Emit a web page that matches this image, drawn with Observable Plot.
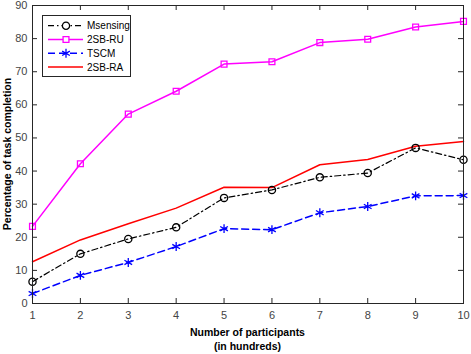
<!DOCTYPE html>
<html>
<head>
<meta charset="utf-8">
<script src="https://cdn.jsdelivr.net/npm/d3@7"></script>
<script src="https://cdn.jsdelivr.net/npm/@observablehq/plot@0.6"></script>
<style>
  html, body { margin: 0; padding: 0; background: #fff; }
  #wrap { position: relative; width: 471px; height: 354px; font-family: Arial, "Liberation Sans", Helvetica, sans-serif; }
  #legend { position: absolute; left: 42px; top: 15px; }
</style>
</head>
<body>
<div id="wrap"></div>
<script>
const participants = [1, 2, 3, 4, 5, 6, 7, 8, 9, 10];
const msensing = [6.6, 15.0, 19.5, 23.0, 31.9, 34.3, 38.1, 39.4, 47.0, 43.4];
const sb2RU   = [23.3, 42.2, 57.2, 64.1, 72.3, 73.0, 78.8, 79.8, 83.5, 85.2];
const tscm    = [3.0, 8.5, 12.4, 17.2, 22.6, 22.3, 27.4, 29.3, 32.5, 32.6];
const sb2RA   = [12.6, 19.2, 24.1, 28.8, 35.1, 35.0, 41.9, 43.5, 47.5, 48.9];
const seriesNames = ["Msensing", "2SB-RU", "TSCM", "2SB-RA"];
const xTicks = [1, 2, 3, 4, 5, 6, 7, 8, 9, 10];
const yTicks = [0, 10, 20, 30, 40, 50, 60, 70, 80, 90];

const W = 471, H = 354;
const mL = 32, mR = 8, mT = 5, mB = 51;
const innerH = H - mT - mB, innerW = W - mL - mR;
const axisColor = "#262626";

const rows = (ys) => participants.map((x, i) => ({x, y: ys[i]}));
const style = [
  {data: rows(msensing), stroke: "#000000", dash: "6,3,1.5,3", width: 1.2, symbol: "circle", r: 3.6, fill: "none"},
  {data: rows(sb2RU), stroke: "#ff00ff", dash: null, width: 1.5, symbol: "square", r: 3.3, fill: "none"},
  {data: rows(tscm), stroke: "#0000ff", dash: "7,4", width: 1.5, symbol: "asterisk", r: 4.2, fill: "none"},
  {data: rows(sb2RA), stroke: "#ff0000", dash: null, width: 1.5, symbol: null}
];

const marks = [];
// inward ticks (MATLAB box style)
marks.push(Plot.tickX(xTicks, {x: d => d, stroke: axisColor, insetTop: innerH - 5}));
marks.push(Plot.tickX(xTicks, {x: d => d, stroke: axisColor, insetBottom: innerH - 5}));
marks.push(Plot.tickY(yTicks, {y: d => d, stroke: axisColor, insetRight: innerW - 5}));
marks.push(Plot.tickY(yTicks, {y: d => d, stroke: axisColor, insetLeft: innerW - 5}));
for (const s of [style[3], style[1], style[0], style[2]]) {
  marks.push(Plot.line(s.data, {x: "x", y: "y", stroke: s.stroke, strokeWidth: s.width, strokeDasharray: s.dash}));
}
for (const s of style) {
  if (s.symbol) marks.push(Plot.dot(s.data, {x: "x", y: "y", symbol: s.symbol, r: s.r, stroke: s.stroke, fill: s.fill, strokeWidth: 1.3}));
}
marks.push(Plot.frame({stroke: axisColor, strokeWidth: 1}));
marks.push(Plot.axisX(xTicks, {tickSize: 0, tickPadding: 8, fontSize: 11, fill: "#444", label: null}));
marks.push(Plot.axisY(yTicks, {tickSize: 0, tickPadding: 5, fontSize: 11, fill: "#444", label: null}));

const chart = Plot.plot({
  width: W, height: H,
  marginLeft: mL, marginRight: mR, marginTop: mT, marginBottom: mB,
  style: {fontFamily: "Arial, 'Liberation Sans', sans-serif", background: "#fff", overflow: "visible"},
  x: {domain: [1, 10]},
  y: {domain: [0, 90]},
  marks
});
const wrap = document.getElementById("wrap");
wrap.appendChild(chart);

// axis titles
const svg = d3.select(chart);
svg.append("text").attr("x", mL + innerW / 2).attr("y", 336)
  .attr("text-anchor", "middle").attr("font-size", 10.5).attr("font-weight", "bold").attr("fill", "#000")
  .text("Number of participants");
svg.append("text").attr("x", mL + innerW / 2).attr("y", 350)
  .attr("text-anchor", "middle").attr("font-size", 10.5).attr("font-weight", "bold").attr("fill", "#000")
  .text("(in hundreds)");
svg.append("text").attr("transform", `translate(11,${mT + innerH / 2}) rotate(-90)`)
  .attr("text-anchor", "middle").attr("font-size", 10.5).attr("font-weight", "bold").attr("fill", "#000")
  .text("Percentage of task completion");

// legend
const lw = 89, lh = 62;
const leg = d3.select(wrap).append("svg").attr("id", "legend").attr("width", lw).attr("height", lh);
leg.append("rect").attr("x", 0.5).attr("y", 0.5).attr("width", lw - 1).attr("height", lh - 1)
  .attr("fill", "#fff").attr("stroke", axisColor);
const symMap = {circle: d3.symbolCircle, square: d3.symbolSquare, asterisk: d3.symbolAsterisk};
style.forEach((s, i) => {
  const cy = 10.7 + i * 13.8;
  leg.append("line").attr("x1", 6).attr("x2", 41).attr("y1", cy).attr("y2", cy)
    .attr("stroke", s.stroke).attr("stroke-width", s.width).attr("stroke-dasharray", s.dash);
  if (s.symbol) {
    leg.append("path").attr("transform", `translate(24,${cy})`)
      .attr("d", d3.symbol(symMap[s.symbol], Math.PI * s.r * s.r)())
      .attr("fill", "#fff").attr("stroke", s.stroke).attr("stroke-width", 1.3);
  }
  leg.append("text").attr("x", 45).attr("y", cy).attr("dy", "0.35em")
    .attr("font-size", 10).attr("fill", "#000").text(seriesNames[i]);
});
</script>
</body>
</html>
